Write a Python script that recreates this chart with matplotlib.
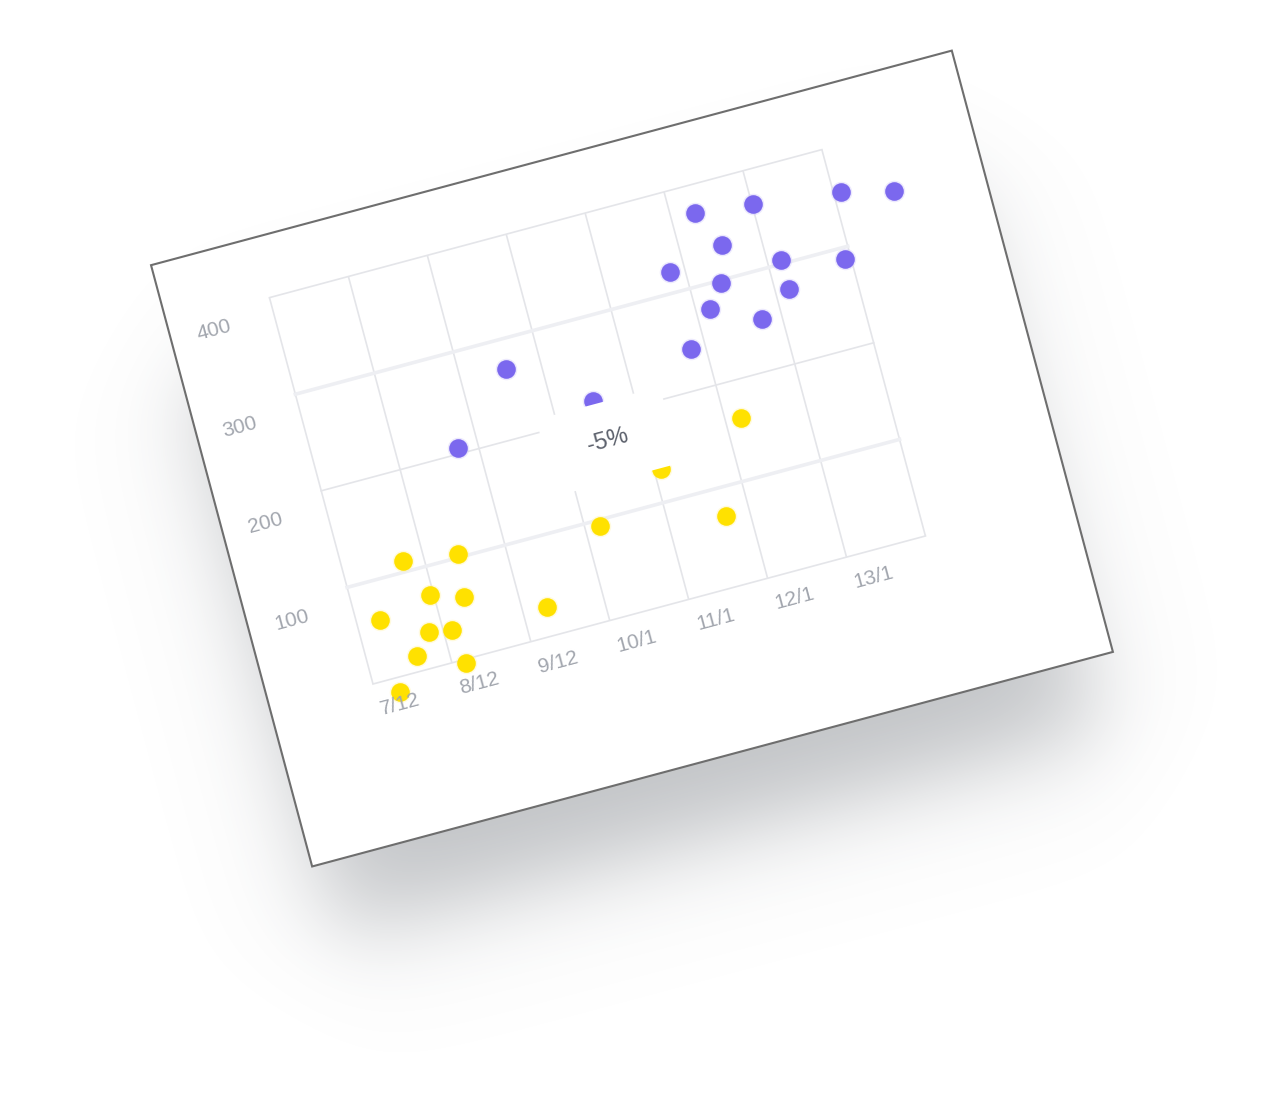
import numpy as np
import matplotlib.pyplot as plt
from matplotlib.transforms import Affine2D
from matplotlib.patches import Rectangle

# chart data (x in column units, y in value units)
x_labels = ["7/12", "8/12", "9/12", "10/1", "11/1", "12/1", "13/1"]
y_ticks = [100, 200, 300, 400]

purple_x = [2.57, 1.75, 3.50, 5.30, 6.01, 7.09, 7.72, 5.52, 4.82, 6.17, 6.93, 5.39, 6.17, 5.17, 5.76, 4.82]
purple_y = [270, 206, 216, 372, 365, 354, 341, 334, 321, 304, 288, 297, 274, 275, 252, 241]

yellow_x = [0.75, 1.42, 0.96, 1.35, 0.29, 0.83, 1.10, 0.61, 1.16, 0.29, 2.30, 3.18, 4.08, 4.71, 5.19]
yellow_y = [111, 104, 71, 60, 60, 36, 32, 16, -4, -15, 29, 94, 133, 71, 162]

badge_text = "-5%"

W, H = 1265, 1118
ANGLE = 15
ORIGIN = (373, H - 684)   # plot bottom-left, figure pixels (y up)
COL = 81.7                # pixels per x unit
N_COLS = 7
Y_MAX = 400

fig = plt.figure(figsize=(W / 100, H / 100), dpi=100)
ax = fig.add_axes([0, 0, 1, 1])
ax.axis("off")

local = Affine2D().rotate_deg(ANGLE).translate(*ORIGIN) + ax.transData
chart = Affine2D().scale(COL, 1.0) + local

# card geometry in local pixels
card_x0, card_y0, card_w, card_h = -106, -160.5, 829, 622.5

# soft drop shadow (raster, decorative)
yy, xx = np.mgrid[0:H, 0:W] + 0.5
c, s = np.cos(np.radians(ANGLE)), np.sin(np.radians(ANGLE))
dx = xx - ORIGIN[0] - 10
dy = yy - ORIGIN[1] + 85
lx = dx * c + dy * s
ly = -dx * s + dy * c
sig = 50.0


def soft(v, a, b):
    k = 1.2025 / (sig * np.sqrt(2))
    return 0.5 * (np.tanh((v - a) * k) - np.tanh((v - b) * k))


alpha = 0.42 * soft(lx, card_x0 + 20, card_x0 + card_w - 20) * soft(ly, card_y0 + 10, card_y0 + card_h - 40)
img = np.zeros((H, W, 4))
img[..., 0] = 0.42
img[..., 1] = 0.44
img[..., 2] = 0.47
img[..., 3] = alpha
ax.imshow(img, extent=(0, W, 0, H), origin="lower", zorder=0, interpolation="bilinear", aspect="auto")
ax.set_xlim(0, W)
ax.set_ylim(0, H)

ax.add_patch(Rectangle((card_x0, card_y0), card_w, card_h, transform=local,
                       facecolor="white", edgecolor="#6e6e6e", lw=1.5, zorder=1))

# grid
for i in range(N_COLS + 1):
    ax.plot([i, i], [0, Y_MAX], transform=chart, color="#e4e5e9", lw=1.2, zorder=2,
            solid_capstyle="butt")
for v in [0] + y_ticks:
    if v % 200 == 0:
        ax.plot([0, N_COLS], [v, v], transform=chart, color="#e4e5e9", lw=1.2, zorder=2)
    else:
        ax.plot([0, N_COLS], [v, v], transform=chart, color="#eeeff3", lw=2.6, zorder=2)

# points
for xs, ys, col, halo in [(purple_x, purple_y, "#7b68ee", "#c9c0fa"),
                          (yellow_x, yellow_y, "#ffe100", "#fff3a0")]:
    ax.scatter(xs, ys, s=240, color=halo, alpha=0.35, linewidths=0, transform=chart,
               clip_on=False, zorder=3)
    ax.scatter(xs, ys, s=180, color=col, linewidths=0, transform=chart,
               clip_on=False, zorder=4)

# tick labels
lab = dict(rotation=ANGLE, rotation_mode="anchor", ha="center", va="center",
           color="#a2a6ae", fontsize=15, family=["Liberation Sans", "DejaVu Sans"], zorder=6)
for i, t in enumerate(x_labels):
    ax.text(i * COL + 21, -27, t, transform=local, **lab)
for v in y_ticks:
    ax.text(-62, v - 17, str(v), transform=local, **lab)

# badge
ax.add_patch(Rectangle((226, 134), 128, 79, transform=local, facecolor="white",
                       edgecolor="none", zorder=5))
ax.text(290, 174, badge_text, transform=local, rotation=ANGLE, rotation_mode="anchor",
        ha="center", va="center", color="#5c616c", fontsize=17,
        family=["Liberation Sans", "DejaVu Sans"], zorder=6)

fig.savefig("out.png", dpi=100)
